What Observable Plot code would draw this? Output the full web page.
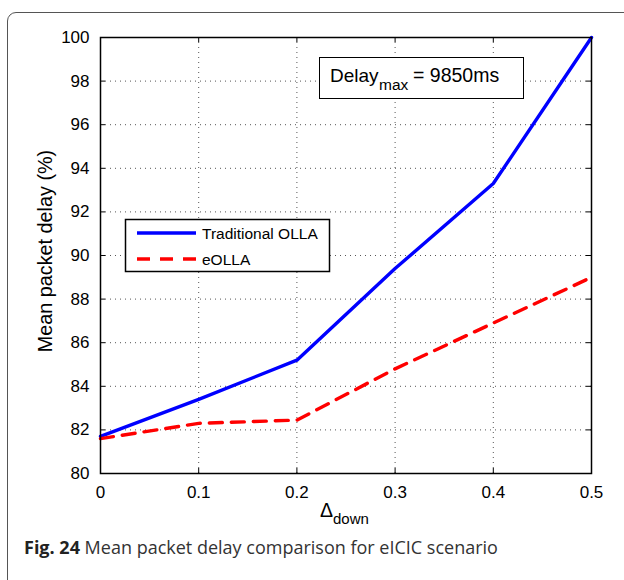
<!DOCTYPE html>
<html>
<head>
<meta charset="utf-8">
<script src="https://cdn.jsdelivr.net/npm/d3@7"></script>
<script src="https://cdn.jsdelivr.net/npm/@observablehq/plot@0.6"></script>
<style>
  html, body { margin: 0; padding: 0; background: #fff; overflow: hidden; width: 624px; height: 580px; }
  #card { position: absolute; left: 7px; top: 12px; width: 720px; height: 700px;
          border: 1.5px solid #555; border-radius: 9px; box-sizing: border-box; }
  #chart { position: absolute; left: 0; top: 0; }
  #caption { position: absolute; left: 24px; top: 535px; font-family: "Open Sans", sans-serif;
             font-size: 18px; color: #333; white-space: nowrap; }
  #caption b { color: #222; }
</style>
</head>
<body>
<div id="card"></div>
<div id="chart"></div>
<div id="caption"><b>Fig. 24</b> Mean packet delay comparison for eICIC scenario</div>
<script>
// Δdown values on the x axis
const deltaDown = [0, 0.1, 0.2, 0.3, 0.4, 0.5];
// Mean packet delay (% of Delay_max) for each scheme
const traditionalOLLA = [81.7, 83.4, 85.2, 89.4, 93.3, 100];
const eOLLA = [81.6, 82.3, 82.45, 84.8, 86.9, 89.0];
const xTicks = [0, 0.1, 0.2, 0.3, 0.4, 0.5];
const yTicks = [80, 82, 84, 86, 88, 90, 92, 94, 96, 98, 100];
const seriesNames = ["Traditional OLLA", "eOLLA"];
const seriesColors = ["#0000ff", "#ff0000"];

const rows = deltaDown.flatMap((x, i) => [
  {x, y: traditionalOLLA[i], s: seriesNames[0]},
  {x, y: eOLLA[i], s: seriesNames[1]}
]);

const W = 624, H = 535;
const mL = 100, mR = 33, mT = 37, mB = H - 473;
const innerH = H - mT - mB, innerW = W - mL - mR;
const font = "'Liberation Sans', Arial, sans-serif";

const plot = Plot.plot({
  width: W, height: H,
  marginLeft: mL, marginRight: mR, marginTop: mT, marginBottom: mB,
  style: {fontFamily: font, fontSize: "17px", color: "#000", background: "transparent"},
  x: {domain: [0, 0.5], ticks: xTicks},
  y: {domain: [80, 100], ticks: yTicks},
  marks: [
    Plot.gridX(xTicks, {stroke: "#555", strokeOpacity: 1, strokeWidth: 1, strokeDasharray: "1,4"}),
    Plot.gridY(yTicks, {stroke: "#555", strokeOpacity: 1, strokeWidth: 1, strokeDasharray: "1,4"}),
    // inward tick marks on all four sides
    Plot.tickX(xTicks, {x: d => d, insetTop: innerH - 5, stroke: "#000"}),
    Plot.tickX(xTicks, {x: d => d, insetBottom: innerH - 5, stroke: "#000"}),
    Plot.tickY(yTicks, {y: d => d, insetRight: innerW - 5, stroke: "#000"}),
    Plot.tickY(yTicks, {y: d => d, insetLeft: innerW - 5, stroke: "#000"}),
    Plot.axisX(xTicks, {tickSize: 0, tickPadding: 12, fontSize: 17, label: null, tickFormat: d => String(d)}),
    Plot.axisY(yTicks, {tickSize: 0, tickPadding: 11, fontSize: 17, label: null}),
    Plot.line(rows.filter(d => d.s === seriesNames[0]), {x: "x", y: "y", stroke: seriesColors[0], strokeWidth: 3.4}),
    Plot.line(rows.filter(d => d.s === seriesNames[1]), {x: "x", y: "y", stroke: seriesColors[1], strokeWidth: 3.4, strokeDasharray: "13,9"}),
    Plot.frame({stroke: "#000", strokeWidth: 1.5})
  ]
});
document.getElementById("chart").appendChild(plot);

const svg = d3.select(plot);

// y axis title
svg.append("text")
  .attr("transform", "translate(52,251) rotate(-90)")
  .attr("text-anchor", "middle")
  .style("font-family", font).style("font-size", "19.8px")
  .text("Mean packet delay (%)");

// x axis title: Δ with subscript "down"
const xt = svg.append("text")
  .attr("x", 320).attr("y", 517)
  .attr("text-anchor", "start")
  .style("font-family", font).style("font-size", "19.5px");
xt.append("tspan").text("Δ");
xt.append("tspan").attr("dy", 7).style("font-size", "15px").text("down");

// annotation box
const ann = svg.append("g").attr("text-anchor", "start").style("font-family", font);
ann.append("rect").attr("x", 319.5).attr("y", 57.5).attr("width", 204).attr("height", 41)
  .attr("fill", "#fff").attr("stroke", "#000").attr("stroke-width", 1);
ann.append("text").attr("x", 330).attr("y", 82).style("font-size", "19px").text("Delay");
ann.append("text").attr("x", 379).attr("y", 90).style("font-size", "15.5px").text("max");
ann.append("text").attr("x", 413).attr("y", 82).style("font-size", "19.5px").text("= 9850ms");

// legend
const lg = svg.append("g").attr("text-anchor", "start");
lg.append("rect").attr("x", 125.5).attr("y", 219.5).attr("width", 204).attr("height", 52)
  .attr("fill", "#fff").attr("stroke", "#000").attr("stroke-width", 1.5);
seriesNames.forEach((name, i) => {
  const y = 233 + i * 26;
  lg.append("line").attr("x1", 137).attr("x2", 196).attr("y1", y).attr("y2", y)
    .attr("stroke", seriesColors[i]).attr("stroke-width", 3.4)
    .attr("stroke-dasharray", i === 1 ? "13,10" : null);
  lg.append("text").attr("x", 202).attr("y", y + 5.5)
    .style("font-family", font).style("font-size", "15.5px").text(name);
});
</script>
</body>
</html>
